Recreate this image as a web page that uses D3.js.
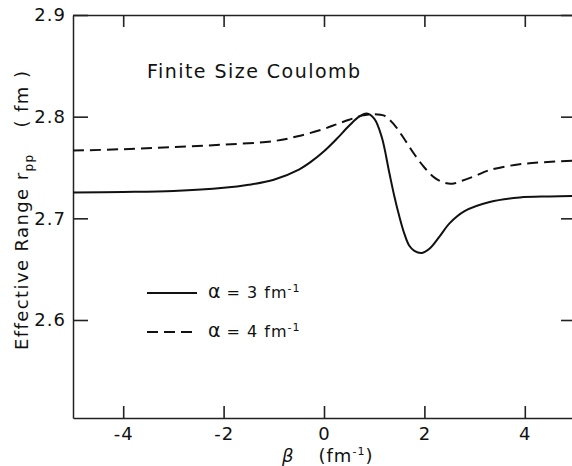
<!DOCTYPE html>
<meta charset="utf-8">
<script src="https://d3js.org/d3.v7.min.js"></script>
<style>
  body { margin: 0; background: white; }
  svg text { font-family: 'DejaVu Sans', sans-serif; fill: #111; }
</style>
<body>
<div id="chart"></div>
<script>

// beta values (fm^-1) and effective range r_pp (fm)
var betaSolid = [-5, -4, -3, -2, -1.5, -1, -0.5, -0.25, 0, 0.25, 0.5, 0.7, 0.85, 1.0, 1.15, 1.3, 1.4, 1.5, 1.6, 1.7, 1.8, 1.95, 2.1, 2.3, 2.5, 2.8, 3.3, 3.9, 4.5, 5.0];
var rSolid    = [2.7255, 2.726, 2.727, 2.730, 2.733, 2.738, 2.748, 2.756, 2.766, 2.778, 2.791, 2.800, 2.803, 2.798, 2.780, 2.745, 2.722, 2.702, 2.685, 2.673, 2.668, 2.666, 2.670, 2.682, 2.695, 2.707, 2.716, 2.7205, 2.7215, 2.722];

var betaDashed = [-5, -4, -3, -2, -1, -0.5, 0, 0.25, 0.5, 0.75, 1.0, 1.2, 1.4, 1.6, 1.8, 2.0, 2.2, 2.4, 2.55, 2.75, 3.0, 3.3, 3.8, 4.3, 5.0];
var rDashed    = [2.7666, 2.768, 2.770, 2.7725, 2.776, 2.781, 2.788, 2.7925, 2.797, 2.801, 2.8025, 2.801, 2.792, 2.778, 2.763, 2.750, 2.740, 2.735, 2.734, 2.737, 2.7415, 2.7475, 2.7525, 2.755, 2.7567];

var xTicks = [-4, -2, 0, 2, 4];
var yTicks = [2.6, 2.7, 2.8, 2.9];
var legendLabels = ["3", "4"];

var margin = {top: 15, right: 0, bottom: 48, left: 73},
    width = 502,
    height = 403;

var svg = d3.select("#chart")
  .append("svg")
    .attr("width", 572)
    .attr("height", 466)
  .append("g")
    .attr("transform", "translate(" + margin.left + "," + margin.top + ")");

var x = d3.scaleLinear().domain([-5, 5]).range([0, width]);
var y = d3.scaleLinear().domain([2.5036, 2.9]).range([height, 0]);

// axes, ticks pointing inward
var xb = svg.append("g")
  .attr("transform", "translate(0," + height + ")")
  .call(d3.axisBottom(x).tickValues(xTicks).tickSizeInner(-12).tickSizeOuter(0).tickPadding(9)
        .tickFormat(function(d) { return d < 0 ? "-" + Math.abs(d) : d; }));
var xt = svg.append("g")
  .call(d3.axisTop(x).tickValues(xTicks).tickSizeInner(-12).tickSizeOuter(0).tickFormat(""));
var yl = svg.append("g")
  .call(d3.axisLeft(y).tickValues(yTicks).tickSizeInner(-15).tickSizeOuter(0).tickPadding(7)
        .tickFormat(d3.format(".1f")));
var yr = svg.append("g")
  .attr("transform", "translate(" + width + ",0)")
  .call(d3.axisRight(y).tickValues(yTicks).tickSizeInner(-14).tickSizeOuter(0).tickFormat(""));

[xb, xt, yl, yr].forEach(function(g) {
  g.selectAll("path").attr("stroke", "#222").attr("stroke-width", 1.5);
  g.selectAll("line").attr("stroke", "#222").attr("stroke-width", 1.6);
  g.selectAll("text").style("font-size", "18px").style("letter-spacing", "1px")
    .style("font-family", "'DejaVu Sans', sans-serif").attr("fill", "#111");
});

// curves
var solidData = betaSolid.map(function(b, i) { return [b, rSolid[i]]; });
var dashedData = betaDashed.map(function(b, i) { return [b, rDashed[i]]; });

var line = d3.line()
  .x(function(d) { return x(d[0]); })
  .y(function(d) { return y(d[1]); })
  .curve(d3.curveCatmullRom.alpha(0.5));

svg.append("path")
  .datum(solidData)
  .attr("d", line)
  .attr("fill", "none")
  .attr("stroke", "#111")
  .attr("stroke-width", 2);

svg.append("path")
  .datum(dashedData)
  .attr("d", line)
  .attr("fill", "none")
  .attr("stroke", "#111")
  .attr("stroke-width", 2)
  .attr("stroke-dasharray", "11,6");

// title inside plot
svg.append("text")
  .attr("x", 74)
  .attr("y", 63)
  .style("font-size", "19px")
  .attr("textLength", 213)
  .attr("lengthAdjust", "spacing")
  .text("Finite Size Coulomb");

// legend
var legend = svg.selectAll(".leg")
  .data(legendLabels)
  .enter().append("g")
    .attr("transform", function(d, i) { return "translate(74," + (278 + i * 39) + ")"; });

legend.append("line")
  .attr("x1", 0).attr("x2", 50)
  .attr("stroke", "#111")
  .attr("stroke-width", 2)
  .attr("stroke-dasharray", function(d, i) { return i ? "11,6" : null; });

var lt = legend.append("text")
  .attr("x", 61)
  .attr("y", 5)
  .style("font-size", "16px")
  .style("letter-spacing", "1px");
lt.append("tspan").style("font-size", "19px").text("\u03b1");
lt.append("tspan").attr("dx", 5).text(function(d) { return "=  " + d + " fm"; });
lt.append("tspan").attr("dy", -6).style("font-size", "11px").text("-1");

// x label
var xl = svg.append("text")
  .attr("x", 209)
  .attr("y", 447)
  .style("font-size", "18px")
  .style("letter-spacing", "1px");
xl.append("tspan").style("font-style", "italic").text("\u03b2");
xl.append("tspan").attr("dx", 24).text("(fm");
xl.append("tspan").attr("dy", -7).style("font-size", "11px").text("-1");
xl.append("tspan").attr("dy", 7).text(")");

// y label
var ylab = svg.append("text")
  .attr("transform", "translate(-45,335) rotate(-90)")
  .style("font-size", "18px")
  .style("letter-spacing", "1.4px");
ylab.append("tspan").text("Effective Range r");
ylab.append("tspan").attr("dy", 5).style("font-size", "12px").text("pp");
ylab.append("tspan").attr("dy", -5).attr("dx", 26).text("( fm )");

</script>
</body>
